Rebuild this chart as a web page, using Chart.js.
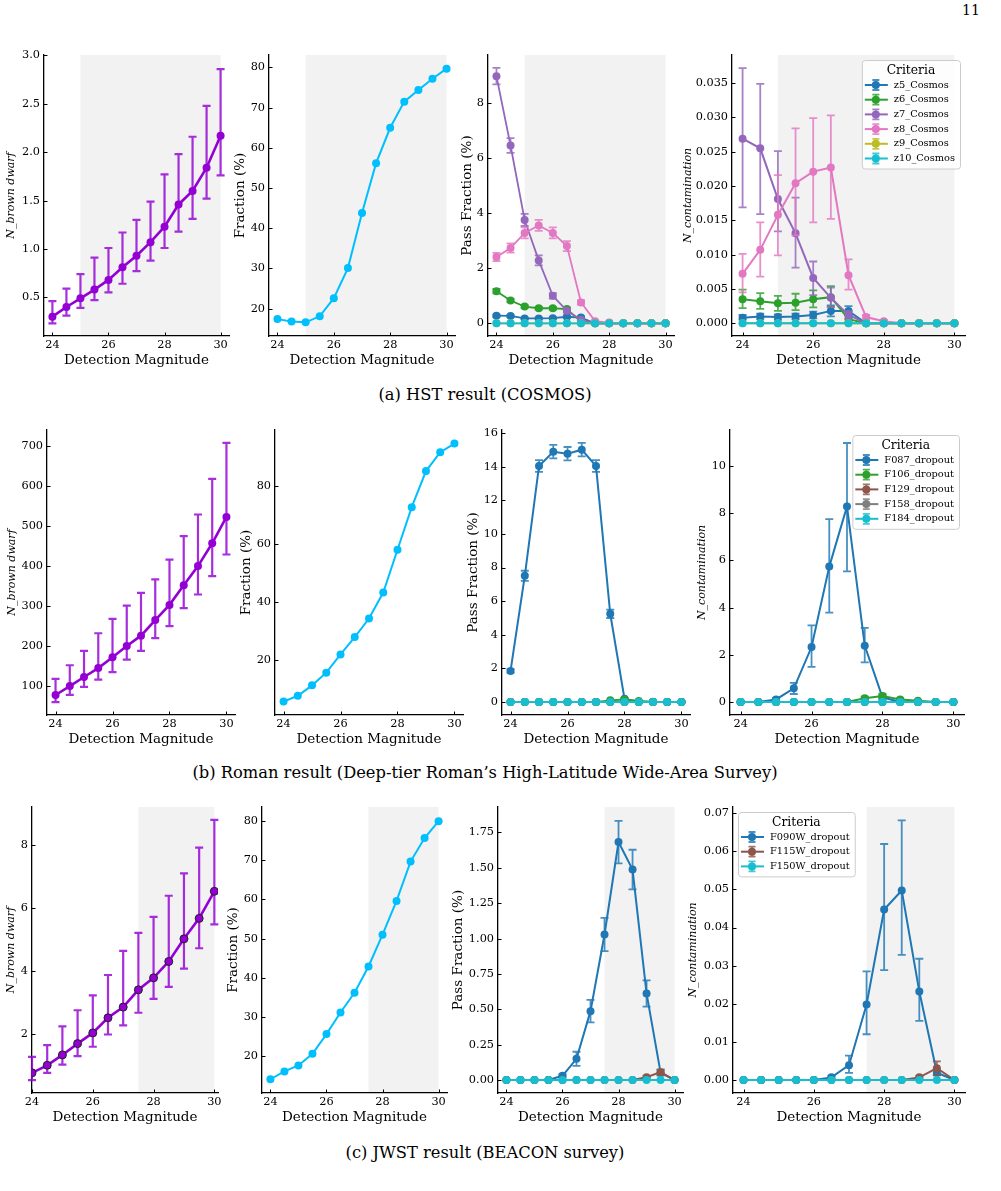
<!DOCTYPE html>
<html><head><meta charset="utf-8">
<script src="https://cdn.jsdelivr.net/npm/chart.js@4.4.1/dist/chart.umd.min.js"></script>
<style>
html,body{margin:0;padding:0;background:#fff;}
#page{position:relative;width:1001px;height:1191px;overflow:hidden;background:#fff;}
.pn{position:absolute;left:962px;top:2px;font-family:"DejaVu Serif",serif;font-size:14px;color:#000;}
.cap{position:absolute;left:0;width:970px;text-align:center;font-family:"DejaVu Serif",serif;font-size:16.3px;color:#000;line-height:20px;}
</style></head>
<body><div id="page">
<div class="pn">11</div>
<div class="cap" style="top:385px">(a) HST result (COSMOS)</div>
<div class="cap" style="top:763px">(b) Roman result (Deep-tier Roman’s High-Latitude Wide-Area Survey)</div>
<div class="cap" style="top:1143px">(c) JWST result (BEACON survey)</div>
</div>
<script>
// ---------------- DATA ----------------
const mags = [24, 24.5, 25, 25.5, 26, 26.5, 27, 27.5, 28, 28.5, 29, 29.5, 30];
const xTickVals = [24, 26, 28, 30];

// (a) HST / COSMOS
const hstBrownDwarf   = [0.30, 0.40, 0.49, 0.58, 0.68, 0.81, 0.93, 1.07, 1.23, 1.46, 1.60, 1.84, 2.17];
const hstBrownDwarfLo = [0.23, 0.31, 0.39, 0.47, 0.55, 0.64, 0.77, 0.88, 1.01, 1.18, 1.31, 1.52, 1.76];
const hstBrownDwarfHi = [0.46, 0.59, 0.74, 0.91, 1.01, 1.17, 1.30, 1.49, 1.77, 1.98, 2.16, 2.48, 2.86];
const hstFraction     = [17.4, 16.8, 16.6, 18.1, 22.6, 30.1, 43.8, 56.2, 65.0, 71.5, 74.4, 77.2, 79.7];

const hstPassZ5  = [0.28, 0.27, 0.18, 0.18, 0.19, 0.24, 0.21, 0, 0, 0, 0, 0, 0];
const hstPassZ6  = [1.17, 0.83, 0.61, 0.55, 0.55, 0.52, 0.06, 0, 0, 0, 0, 0, 0];
const hstPassZ7  = [8.99, 6.47, 3.76, 2.29, 1.00, 0.46, 0.13, 0, 0, 0, 0, 0, 0];
const hstPassZ8  = [2.41, 2.74, 3.29, 3.56, 3.29, 2.81, 0.76, 0.08, 0.03, 0, 0, 0, 0];
const hstPassZ9  = [0, 0, 0, 0, 0, 0, 0, 0, 0, 0, 0, 0, 0];
const hstPassZ10 = [0, 0, 0, 0, 0, 0, 0, 0, 0, 0, 0, 0, 0];
const hstPassErrZ5 = [0.04, 0.04, 0.03, 0.03, 0.03, 0.04, 0.04, 0, 0, 0, 0, 0, 0];
const hstPassErrZ6 = [0.08, 0.06, 0.05, 0.05, 0.05, 0.05, 0.02, 0, 0, 0, 0, 0, 0];
const hstPassErrZ7 = [0.30, 0.27, 0.22, 0.18, 0.10, 0.07, 0.03, 0, 0, 0, 0, 0, 0];
const hstPassErrZ8 = [0.15, 0.17, 0.20, 0.20, 0.20, 0.18, 0.08, 0.03, 0.01, 0, 0, 0, 0];

const hstContZ5   = [0.0008, 0.0010, 0.0009, 0.0010, 0.0012, 0.0018, 0.0018, 0, 0, 0, 0, 0, 0];
const hstContZ5Lo = [0.0005, 0.0006, 0.0005, 0.0006, 0.0007, 0.0010, 0.0011, null, null, null, null, null, null];
const hstContZ5Hi = [0.0012, 0.0014, 0.0013, 0.0014, 0.0017, 0.0026, 0.0025, null, null, null, null, null, null];
const hstContZ6   = [0.0035, 0.0032, 0.0029, 0.0030, 0.0035, 0.0038, 0.0006, 0, 0, 0, 0, 0, 0];
const hstContZ6Lo = [0.0022, 0.0021, 0.0018, 0.0019, 0.0023, 0.0024, 0.0002, null, null, null, null, null, null];
const hstContZ6Hi = [0.0049, 0.0044, 0.0040, 0.0043, 0.0048, 0.0054, 0.0011, null, null, null, null, null, null];
const hstContZ7   = [0.0269, 0.0255, 0.0181, 0.0131, 0.0066, 0.0037, 0.0012, 0, 0, 0, 0, 0, 0];
const hstContZ7Lo = [0.0169, 0.0159, 0.0134, 0.0081, 0.0041, 0.0024, 0.0006, null, null, null, null, null, null];
const hstContZ7Hi = [0.0372, 0.0349, 0.0251, 0.0183, 0.0090, 0.0052, 0.0018, null, null, null, null, null, null];
const hstContZ8   = [0.0072, 0.0107, 0.0158, 0.0204, 0.0221, 0.0227, 0.0070, 0.0009, 0.0003, 0, 0, 0, 0];
const hstContZ8Lo = [0.0045, 0.0068, 0.0099, 0.0128, 0.0147, 0.0152, 0.0049, 0.0006, 0.0002, null, null, null, null];
const hstContZ8Hi = [0.0101, 0.0147, 0.0216, 0.0284, 0.0299, 0.0303, 0.0093, 0.0012, 0.0005, null, null, null, null];
const hstContZ9   = [0, 0, 0, 0, 0, 0, 0, 0, 0, 0, 0, 0, 0];
const hstContZ10  = [0, 0, 0, 0, 0, 0, 0, 0, 0, 0, 0, 0, 0];

// (b) Roman
const romBrownDwarf   = [77.6, 100, 122.6, 145, 172, 200, 226, 265, 303, 352, 400, 457, 523];
const romBrownDwarfLo = [60, 78, 98, 116, 135, 166, 188, 220, 250, 295, 329, 375, 429];
const romBrownDwarfHi = [118, 152, 188, 232, 268, 301, 333, 367, 416, 475, 529, 618, 708];
const romFraction     = [5.5, 7.5, 11.1, 15.5, 21.8, 27.8, 34.2, 43.2, 58.0, 72.7, 85.2, 91.7, 94.7];

const romPassF087 = [1.85, 7.51, 14.04, 14.89, 14.77, 15.01, 14.04, 5.25, 0.20, 0, 0, 0, 0];
const romPassErrF087 = [0.10, 0.30, 0.35, 0.40, 0.40, 0.40, 0.35, 0.25, 0.05, 0, 0, 0, 0];
const romPassF106 = [0, 0, 0, 0, 0, 0, 0, 0.10, 0.15, 0.06, 0.02, 0, 0];
const romPassF129 = [0, 0, 0, 0, 0, 0, 0, 0, 0, 0, 0, 0, 0];
const romPassF158 = [0, 0, 0, 0, 0, 0, 0, 0, 0, 0, 0, 0, 0];
const romPassF184 = [0, 0, 0, 0, 0, 0, 0, 0, 0, 0, 0, 0, 0];

const romContF087   = [0, 0, 0.11, 0.58, 2.33, 5.74, 8.29, 2.39, 0.20, 0, 0, 0, 0];
const romContF087Lo = [null, null, 0.06, 0.34, 1.49, 3.79, 5.54, 1.68, 0.10, null, null, null, null];
const romContF087Hi = [null, null, 0.16, 0.81, 3.25, 7.75, 10.98, 3.14, 0.30, null, null, null, null];
const romContF106   = [0, 0, 0, 0, 0, 0, 0, 0.16, 0.26, 0.11, 0.05, 0, 0];
const romContF106Lo = [null, null, null, null, null, null, null, 0.09, 0.16, 0.06, 0.02, null, null];
const romContF106Hi = [null, null, null, null, null, null, null, 0.23, 0.36, 0.16, 0.08, null, null];
const romContF129   = [0, 0, 0, 0, 0, 0, 0, 0, 0, 0, 0, 0, 0];
const romContF158   = [0, 0, 0, 0, 0, 0, 0, 0, 0, 0, 0, 0, 0];
const romContF184   = [0, 0, 0, 0, 0, 0, 0, 0, 0, 0, 0, 0, 0];

// (c) JWST / BEACON
const jwBrownDwarf   = [0.76, 1.00, 1.33, 1.69, 2.03, 2.51, 2.85, 3.40, 3.78, 4.30, 5.02, 5.67, 6.53];
const jwBrownDwarfLo = [0.53, 0.76, 1.02, 1.29, 1.59, 1.98, 2.27, 2.67, 3.11, 3.49, 4.07, 4.72, 5.48];
const jwBrownDwarfHi = [1.27, 1.64, 2.24, 2.75, 3.22, 3.87, 4.64, 5.21, 5.72, 6.39, 7.10, 7.92, 8.80];
const jwFraction     = [14.2, 16.2, 17.7, 20.7, 25.7, 31.2, 36.2, 42.9, 51.0, 59.6, 69.6, 75.6, 79.9];

const jwPassF090W    = [0, 0, 0, 0, 0.03, 0.15, 0.487, 1.029, 1.682, 1.488, 0.612, 0.052, 0];
const jwPassErrF090W = [0, 0, 0, 0, 0.01, 0.05, 0.08, 0.118, 0.15, 0.14, 0.093, 0.02, 0];
const jwPassF115W    = [0, 0, 0, 0, 0, 0, 0, 0, 0, 0, 0.02, 0.056, 0];
const jwPassErrF115W = [0, 0, 0, 0, 0, 0, 0, 0, 0, 0, 0.01, 0.02, 0];
const jwPassF150W    = [0, 0, 0, 0, 0, 0, 0, 0, 0, 0, 0, 0, 0];

const jwContF090W   = [0, 0, 0, 0, 0, 0.0007, 0.0039, 0.0198, 0.0447, 0.0497, 0.0232, 0.0019, 0];
const jwContF090WLo = [null, null, null, null, null, 0.0003, 0.0019, 0.0120, 0.0288, 0.0328, 0.0155, 0.0013, null];
const jwContF090WHi = [null, null, null, null, null, 0.0011, 0.0064, 0.0285, 0.0619, 0.0681, 0.0318, 0.0026, null];
const jwContF115W   = [0, 0, 0, 0, 0, 0, 0, 0, 0, 0, 0.0007, 0.0031, 0];
const jwContF115WLo = [null, null, null, null, null, null, null, null, null, null, 0.0004, 0.0012, null];
const jwContF115WHi = [null, null, null, null, null, null, null, null, null, null, 0.0010, 0.0049, null];
const jwContF150W   = [0, 0, 0, 0, 0, 0, 0, 0, 0, 0, 0, 0, 0];

// y tick values
const hstBdTicks   = [0.5, 1.0, 1.5, 2.0, 2.5, 3.0];
const hstFracTicks = [20, 30, 40, 50, 60, 70, 80];
const hstPassTicks = [0, 2, 4, 6, 8];
const hstContTicks = [0, 0.005, 0.010, 0.015, 0.020, 0.025, 0.030, 0.035];
const romBdTicks   = [100, 200, 300, 400, 500, 600, 700];
const romFracTicks = [20, 40, 60, 80];
const romPassTicks = [0, 2, 4, 6, 8, 10, 12, 14, 16];
const romContTicks = [0, 2, 4, 6, 8, 10];
const jwBdTicks    = [2, 4, 6, 8];
const jwFracTicks  = [20, 30, 40, 50, 60, 70, 80];
const jwPassTicks  = [0, 0.25, 0.5, 0.75, 1.0, 1.25, 1.5, 1.75];
const jwContTicks  = [0, 0.01, 0.02, 0.03, 0.04, 0.05, 0.06, 0.07];

// ---------------- STYLE / HELPERS ----------------
const C = {blue:'#1f77b4', green:'#2ca02c', purple:'#9467bd', pink:'#e377c2', olive:'#bcbd22',
           cyan:'#17becf', brown:'#8c564b', gray:'#7f7f7f', violet:'#9400d3', sky:'#00bfff'};
function rgba(hex, a){const n=parseInt(hex.slice(1),16);return `rgba(${n>>16},${(n>>8)&255},${n&255},${a})`;}
function symLo(v,e){return v.map((x,i)=>e[i]?x-e[i]:null);}
function symHi(v,e){return v.map((x,i)=>e[i]?x+e[i]:null);}
const SHADE = '#f2f2f2';
const FONT = '"DejaVu Serif", serif';
Chart.defaults.font.family = FONT;
Chart.defaults.color = '#000';

const PT = 12, PR = 20, YW = 70, XH = 45;

// ---------------- PLUGINS ----------------
const shadePlugin = {
  id: 'shade',
  beforeDraw(chart, args, o) {
    if (!o || o.from == null) return;
    const {ctx, chartArea: a, scales: {x}} = chart;
    const x0 = x.getPixelForValue(o.from), x1 = x.getPixelForValue(o.to);
    ctx.save(); ctx.fillStyle = SHADE; ctx.fillRect(x0, a.top, x1 - x0, a.bottom - a.top); ctx.restore();
  }
};
const errPlugin = {
  id: 'errbars',
  beforeDatasetDraw(chart, args) {
    const ds = chart.data.datasets[args.index];
    if (!ds.errLo) return;
    const {ctx, scales: {x, y}} = chart;
    const cap = 4;
    ctx.save();
    ctx.strokeStyle = ds.errColor; ctx.lineWidth = ds.errWidth; ctx.lineCap = 'butt';
    ds.data.forEach((p, i) => {
      const lo = ds.errLo[i], hi = ds.errHi[i];
      if (lo == null || hi == null) return;
      const px = x.getPixelForValue(p.x), y0 = y.getPixelForValue(lo), y1 = y.getPixelForValue(hi);
      ctx.beginPath();
      ctx.moveTo(px, y0); ctx.lineTo(px, y1);
      ctx.moveTo(px - cap, y0); ctx.lineTo(px + cap, y0);
      ctx.moveTo(px - cap, y1); ctx.lineTo(px + cap, y1);
      ctx.stroke();
    });
    ctx.restore();
  }
};
const tickPlugin = {
  id: 'inTicks',
  afterDatasetsDraw(chart) {
    const {ctx, chartArea: a, scales: {x, y}} = chart;
    ctx.save(); ctx.strokeStyle = '#000'; ctx.lineWidth = 1; ctx.beginPath();
    x.ticks.forEach(t => { const p = Math.round(x.getPixelForValue(t.value)) + 0.5; ctx.moveTo(p, a.bottom); ctx.lineTo(p, a.bottom - 3.5); });
    y.ticks.forEach(t => { const p = Math.round(y.getPixelForValue(t.value)) + 0.5; ctx.moveTo(a.left, p); ctx.lineTo(a.left + 3.5, p); });
    ctx.stroke(); ctx.restore();
  }
};
const legendPlugin = {
  id: 'critLegend',
  afterDraw(chart, args, o) {
    if (!o || !o.show) return;
    const {ctx, chartArea: a} = chart;
    const dsets = chart.data.datasets;
    const fs = 9.8, step = 14.7;
    ctx.save();
    ctx.font = `${fs}px ${FONT}`;
    let mw = 0; dsets.forEach(d => { mw = Math.max(mw, ctx.measureText(d.label).width); });
    const bw = 32 + mw + 5, bh = 25 + (dsets.length - 1) * step + 10;
    const bx = o.loc === 'ul' ? a.left + 5 : a.right - 5 - bw;
    const by = a.top + 5;
    ctx.beginPath(); ctx.roundRect(bx + 0.5, by + 0.5, bw, bh, 3);
    ctx.fillStyle = 'rgba(255,255,255,0.8)'; ctx.fill();
    ctx.strokeStyle = '#cccccc'; ctx.lineWidth = 1; ctx.stroke();
    ctx.fillStyle = '#000'; ctx.textAlign = 'center'; ctx.textBaseline = 'middle';
    ctx.font = `12.3px ${FONT}`;
    ctx.fillText('Criteria', bx + bw / 2, by + 11);
    ctx.font = `${fs}px ${FONT}`; ctx.textAlign = 'left';
    dsets.forEach((d, i) => {
      const yy = by + 25 + i * step, mx = bx + 14;
      ctx.strokeStyle = d.borderColor; ctx.lineWidth = d.borderWidth;
      ctx.beginPath(); ctx.moveTo(bx + 3, yy); ctx.lineTo(bx + 26, yy); ctx.stroke();
      ctx.strokeStyle = d.errColor || d.borderColor; ctx.lineWidth = 1.8;
      ctx.beginPath(); ctx.moveTo(mx, yy - 5); ctx.lineTo(mx, yy + 5);
      ctx.moveTo(mx - 3.5, yy - 5); ctx.lineTo(mx + 3.5, yy - 5);
      ctx.moveTo(mx - 3.5, yy + 5); ctx.lineTo(mx + 3.5, yy + 5); ctx.stroke();
      ctx.fillStyle = d.borderColor; ctx.beginPath(); ctx.arc(mx, yy, 4, 0, Math.PI * 2); ctx.fill();
      ctx.fillStyle = '#000'; ctx.fillText(d.label, bx + 32, yy);
    });
    ctx.restore();
  }
};
Chart.register(shadePlugin, errPlugin, tickPlugin, legendPlugin);

// ---------------- PANELS ----------------
function S(label, vals, color, opt) { return Object.assign({label, vals, color, lw: 2, r: 4, elw: 1.8}, opt || {}); }

const panels = [
  // row (a)
  {geo:{ax:44, top:55, right:229, bottom:336}, x:[23.7,30.3], y:[0.10,3.005], ticks:hstBdTicks, dec:1,
   title:'N_brown dwarf', italic:true, d:33, shade:[25,30],
   series:[S('N_brown dwarf', hstBrownDwarf, C.violet, {lo:hstBrownDwarfLo, hi:hstBrownDwarfHi, lw:2.6, elw:2.2})]},
  {geo:{ax:269, top:55, right:455, bottom:336}, x:[23.7,30.3], y:[13.2,83.1], ticks:hstFracTicks, dec:0,
   title:'Fraction (%)', d:28.5, shade:[25,30],
   series:[S('Fraction', hstFraction, C.sky)]},
  {geo:{ax:488, top:55, right:674, bottom:336}, x:[23.7,30.3], y:[-0.46,9.76], ticks:hstPassTicks, dec:0,
   title:'Pass Fraction (%)', d:21, shade:[25,30],
   series:[
     S('z5_Cosmos', hstPassZ5, C.blue, {lo:symLo(hstPassZ5,hstPassErrZ5), hi:symHi(hstPassZ5,hstPassErrZ5), lw:1.8}),
     S('z6_Cosmos', hstPassZ6, C.green, {lo:symLo(hstPassZ6,hstPassErrZ6), hi:symHi(hstPassZ6,hstPassErrZ6), lw:1.8}),
     S('z7_Cosmos', hstPassZ7, C.purple, {lo:symLo(hstPassZ7,hstPassErrZ7), hi:symHi(hstPassZ7,hstPassErrZ7), lw:1.8}),
     S('z8_Cosmos', hstPassZ8, C.pink, {lo:symLo(hstPassZ8,hstPassErrZ8), hi:symHi(hstPassZ8,hstPassErrZ8), lw:1.8}),
     S('z9_Cosmos', hstPassZ9, C.olive, {lw:1.8}),
     S('z10_Cosmos', hstPassZ10, C.cyan, {lw:1.8})]},
  {geo:{ax:732, top:55, right:965, bottom:336}, x:[23.7,30.3], y:[-0.00186,0.0391], ticks:hstContTicks, dec:3,
   title:'N_contamination', italic:true, d:44.3, shade:[25,30], legend:'ur',
   series:[
     S('z5_Cosmos', hstContZ5, C.blue, {lo:hstContZ5Lo, hi:hstContZ5Hi}),
     S('z6_Cosmos', hstContZ6, C.green, {lo:hstContZ6Lo, hi:hstContZ6Hi}),
     S('z7_Cosmos', hstContZ7, C.purple, {lo:hstContZ7Lo, hi:hstContZ7Hi}),
     S('z8_Cosmos', hstContZ8, C.pink, {lo:hstContZ8Lo, hi:hstContZ8Hi}),
     S('z9_Cosmos', hstContZ9, C.olive),
     S('z10_Cosmos', hstContZ10, C.cyan)]},
  // row (b)
  {geo:{ax:47, top:430, right:235, bottom:715}, x:[23.7,30.3], y:[27.6,740.4], ticks:romBdTicks, dec:0,
   title:'N_brown dwarf', italic:true, d:34.7,
   series:[S('N_brown dwarf', romBrownDwarf, C.violet, {lo:romBrownDwarfLo, hi:romBrownDwarfHi, lw:2.6, elw:2.2})]},
  {geo:{ax:275, top:430, right:463, bottom:715}, x:[23.7,30.3], y:[0.85,99.4], ticks:romFracTicks, dec:0,
   title:'Fraction (%)', d:28.3,
   series:[S('Fraction', romFraction, C.sky)]},
  {geo:{ax:502, top:430, right:690, bottom:715}, x:[23.7,30.3], y:[-0.77,16.18], ticks:romPassTicks, dec:0,
   title:'Pass Fraction (%)', d:28.3,
   series:[
     S('F087_dropout', romPassF087, C.blue, {lo:symLo(romPassF087,romPassErrF087), hi:symHi(romPassF087,romPassErrF087)}),
     S('F106_dropout', romPassF106, C.green),
     S('F129_dropout', romPassF129, C.brown),
     S('F158_dropout', romPassF158, C.gray),
     S('F184_dropout', romPassF184, C.cyan)]},
  {geo:{ax:730, top:430, right:964, bottom:715}, x:[23.7,30.3], y:[-0.55,11.53], ticks:romContTicks, dec:0,
   title:'N_contamination', italic:true, d:27.7, legend:'ur',
   series:[
     S('F087_dropout', romContF087, C.blue, {lo:romContF087Lo, hi:romContF087Hi}),
     S('F106_dropout', romContF106, C.green, {lo:romContF106Lo, hi:romContF106Hi}),
     S('F129_dropout', romContF129, C.brown),
     S('F158_dropout', romContF158, C.gray),
     S('F184_dropout', romContF184, C.cyan)]},
  // row (c)
  {geo:{ax:32, top:807, right:218, bottom:1093}, x:[24,30.12], y:[0.12,9.21], ticks:jwBdTicks, dec:0,
   title:'N_brown dwarf', italic:true, d:20.7, shade:[27.5,30], clip:0,
   series:[S('N_brown dwarf', jwBrownDwarf, C.violet, {lo:jwBrownDwarfLo, hi:jwBrownDwarfHi, lw:2.6, elw:2.2, edge:'#222'})]},
  {geo:{ax:262, top:807, right:447, bottom:1093}, x:[23.7,30.3], y:[10.7,83.5], ticks:jwFracTicks, dec:0,
   title:'Fraction (%)', d:28.3, shade:[27.5,30],
   series:[S('Fraction', jwFraction, C.sky)]},
  {geo:{ax:498, top:807, right:683, bottom:1093}, x:[23.7,30.3], y:[-0.0915,1.93], ticks:jwPassTicks, dec:2,
   title:'Pass Fraction (%)', d:39.3, shade:[27.5,30],
   series:[
     S('F090W_dropout', jwPassF090W, C.blue, {lo:symLo(jwPassF090W,jwPassErrF090W), hi:symHi(jwPassF090W,jwPassErrF090W)}),
     S('F115W_dropout', jwPassF115W, C.brown, {lo:symLo(jwPassF115W,jwPassErrF115W), hi:symHi(jwPassF115W,jwPassErrF115W)}),
     S('F150W_dropout', jwPassF150W, C.cyan)]},
  {geo:{ax:733, top:807, right:965, bottom:1093}, x:[23.7,30.3], y:[-0.0034,0.0716], ticks:jwContTicks, dec:2,
   title:'N_contamination', italic:true, d:40, shade:[27.5,30], legend:'ul',
   series:[
     S('F090W_dropout', jwContF090W, C.blue, {lo:jwContF090WLo, hi:jwContF090WHi}),
     S('F115W_dropout', jwContF115W, C.brown, {lo:jwContF115WLo, hi:jwContF115WHi}),
     S('F150W_dropout', jwContF150W, C.cyan)]}
];

const page = document.getElementById('page');
function buildChart(p) {
  const g = p.geo;
  const cv = document.createElement('canvas');
  const left = g.ax - YW, top = g.top - PT;
  const w = (g.right - g.ax) + YW + PR, h = (g.bottom - g.top) + PT + XH;
  cv.width = w; cv.height = h;
  cv.style.cssText = `position:absolute;left:${left}px;top:${top}px;width:${w}px;height:${h}px;`;
  page.appendChild(cv);
  const n = p.series.length;
  const datasets = p.series.map((s, i) => ({
    label: s.label,
    data: mags.map((m, j) => ({x: m, y: s.vals[j]})),
    borderColor: s.color, backgroundColor: s.color,
    borderWidth: s.lw, pointRadius: s.r, pointHoverRadius: s.r,
    pointBackgroundColor: s.color,
    pointBorderColor: s.edge || s.color, pointBorderWidth: s.edge ? 1 : 0,
    tension: 0, fill: false, order: n - i,
    clip: p.clip === undefined ? false : p.clip,
    errLo: s.lo || null, errHi: s.hi || null, errColor: rgba(s.color, 0.82), errWidth: s.elw
  }));
  const yTitleSize = p.italic ? 11 : 13.5;
  const yPad = YW - p.d - yTitleSize * 1.2 / 2;
  const xTitlePad = XH - 24 - 13.5 * 1.2 / 2;
  new Chart(cv, {
    type: 'line',
    data: {datasets},
    options: {
      responsive: false, animation: false, events: [],
      layout: {padding: {top: PT, right: PR, left: 0, bottom: 0}},
      plugins: {
        legend: {display: false}, tooltip: {enabled: false},
        shade: p.shade ? {from: p.shade[0], to: p.shade[1]} : {from: null},
        critLegend: p.legend ? {show: true, loc: p.legend} : {show: false}
      },
      scales: {
        x: {
          type: 'linear', min: p.x[0], max: p.x[1],
          grid: {display: false, drawTicks: false},
          border: {display: true, color: '#000', width: 1.3},
          ticks: {padding: 2.5, font: {size: 11.3}, color: '#000', autoSkip: false, maxRotation: 0,
                  callback: v => String(v)},
          title: {display: true, text: 'Detection Magnitude', font: {size: 13.5}, color: '#000',
                  padding: {top: 0, bottom: xTitlePad}},
          afterBuildTicks: s => { s.ticks = xTickVals.map(v => ({value: v})); },
          afterFit: s => { s.height = XH; s.paddingLeft = 0; s.paddingRight = 0; }
        },
        y: {
          type: 'linear', min: p.y[0], max: p.y[1],
          grid: {display: false, drawTicks: false},
          border: {display: true, color: '#000', width: 1.3},
          ticks: {padding: 4, font: {size: 11.3}, color: '#000', autoSkip: false,
                  callback: v => Number(v).toFixed(p.dec)},
          title: {display: true, text: p.title, color: '#000',
                  font: {size: yTitleSize, style: p.italic ? 'italic' : 'normal'},
                  padding: {top: yPad, bottom: 0}},
          afterBuildTicks: s => { s.ticks = p.ticks.map(v => ({value: v})); },
          afterFit: s => { s.width = YW; s.paddingTop = 0; s.paddingBottom = 0; }
        }
      }
    }
  });
}
panels.forEach(buildChart);
</script>
</body></html>
